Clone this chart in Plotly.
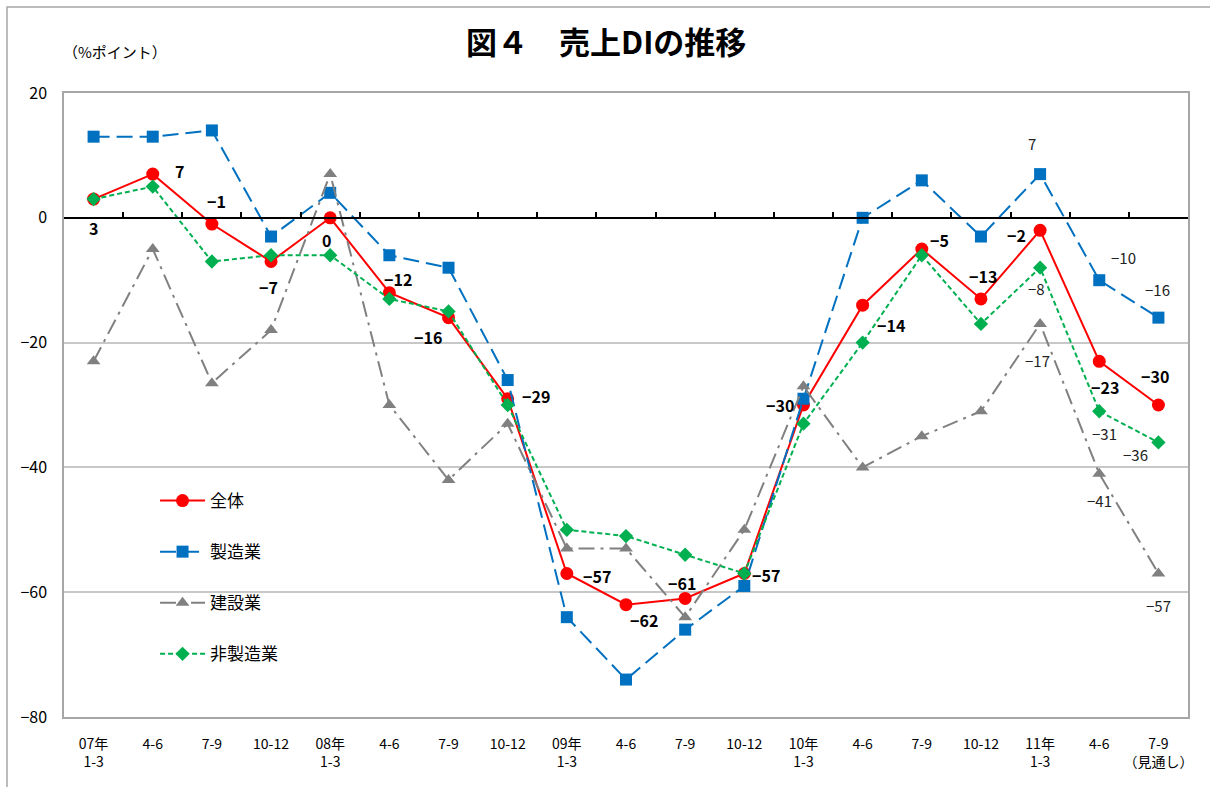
import plotly.graph_objects as go

categories = ["07年<br>1-3", "4-6", "7-9", "10-12", "08年<br>1-3", "4-6", "7-9", "10-12",
              "09年<br>1-3", "4-6", "7-9", "10-12", "10年<br>1-3", "4-6", "7-9", "10-12",
              "11年<br>1-3", "4-6", "7-9<br>（見通し）"]

zentai = [3, 7, -1, -7, 0, -12, -16, -29, -57, -62, -61, -57, -30, -14, -5, -13, -2, -23, -30]
seizo = [13, 13, 14, -3, 4, -6, -8, -26, -64, -74, -66, -59, -29, 0, 6, -3, 7, -10, -16]
kensetsu = [-23, -5, -26.5, -18, 7, -30, -42, -33, -53, -53, -64, -50, -27, -40, -35, -31, -17, -41, -57]
hiseizo = [3, 5, -7, -6, -6, -13, -15, -30, -50, -51, -54, -57, -33, -20, -6, -17, -8, -31, -36]

series_names = ["全体", "製造業", "建設業", "非製造業"]
y_ticks = [20, 0, -20, -40, -60, -80]

FONT = "Noto Sans CJK JP, Noto Sans, sans-serif"
N = len(categories)
xpos = list(range(N))

styles = [
    dict(color="#FF0000", dash="solid", symbol="circle", size=13),
    dict(color="#0070C0", dash="16px,7px", symbol="square", size=12),
    dict(color="#808080", dash="16px,6px,3px,6px", symbol="triangle-up", size=12),
    dict(color="#00B050", dash="5px,3px", symbol="diamond", size=11),
]
data = [zentai, seizo, kensetsu, hiseizo]

fig = go.Figure()
for name, vals, st in zip(series_names, data, styles):
    fig.add_trace(go.Scatter(
        x=xpos, y=vals, name=name, mode="lines+markers",
        line=dict(color=st["color"], width=2, dash=st["dash"]),
        marker=dict(color=st["color"], symbol=st["symbol"], size=st["size"], line=dict(width=0)),
        legendgroup=name, hoverinfo="skip",
    ))

# invisible helper trace for the zero-line axis
fig.add_trace(go.Scatter(x=[0], y=[0], xaxis="x2", mode="markers",
                         marker=dict(opacity=0), showlegend=False, hoverinfo="skip"))

# label placement: (series index, point index, xshift, yshift, bold)
label_specs = [
    (0, 0, 0, -29, True), (0, 1, 27, 3, True), (0, 2, 5, 23, True), (0, 3, -3, -26, True),
    (0, 4, -4, -22, True), (0, 5, 9, 14, True), (0, 6, -21, -19, True), (0, 7, 28, 3, True),
    (0, 8, 30, -3, True), (0, 9, 18, -15, True), (0, 10, -3, 15, True), (0, 11, 22, -2, True),
    (0, 12, -23, 0, True), (0, 13, 28, -20, True), (0, 14, 18, 9, True), (0, 15, 2, 23, True),
    (0, 16, -24, -5, True), (0, 17, 6, -26, True), (0, 18, -3, 29, True),
    (1, 16, -8, 31, False), (1, 17, 24, 23, False), (1, 18, -1, 28, False),
    (2, 16, -3, -37, False), (2, 17, 0, -27, False), (2, 18, 0, -32, False),
    (3, 16, -4, -21, False), (3, 17, 5, -22, False), (3, 18, -23, -12, False),
]

def fmt(v):
    v = int(round(v))
    return ("−" + str(-v)) if v < 0 else str(v)

annotations = []
for si, pi, xs, ys, bold in label_specs:
    v = data[si][pi]
    txt = fmt(v)
    annotations.append(dict(
        x=xpos[pi], y=v, xref="x", yref="y", text=("<b>" + txt + "</b>") if bold else txt,
        showarrow=False, xshift=xs, yshift=ys, xanchor="center", yanchor="middle",
        font=dict(family=FONT, size=16 if bold else 15, color="#000000" if bold else "#222222"),
    ))

annotations.append(dict(x=0.5, y=1.0, xref="paper", yref="paper", yshift=53, xshift=-20, showarrow=False,
                        text="<b>図４　売上DIの推移</b>", xanchor="center", yanchor="middle",
                        font=dict(family=FONT, size=31, color="#000000")))
annotations.append(dict(x=0.0, y=1.0, xref="paper", yref="paper", yshift=42, xshift=-3, showarrow=False,
                        text="（%ポイント）", xanchor="left", yanchor="middle",
                        font=dict(family=FONT, size=15, color="#000000")))

fig.update_layout(
    width=1210, height=787,
    margin=dict(l=64, r=22, t=93, b=70),
    paper_bgcolor="white", plot_bgcolor="white",
    font=dict(family=FONT, color="#000000"),
    showlegend=True,
    legend=dict(x=0.081, y=0.375, xanchor="left", yanchor="top", bgcolor="rgba(0,0,0,0)",
                font=dict(family=FONT, size=17), tracegroupgap=26, traceorder="grouped",
                itemwidth=45),
    xaxis=dict(range=[-0.5, N - 0.5], tickmode="array", tickvals=xpos, ticktext=categories,
               showline=True, linecolor="#A6A6A6", linewidth=1.5, mirror=True,
               showgrid=False, zeroline=False, ticks="outside", ticklen=13, tickcolor="rgba(0,0,0,0)",
               tickfont=dict(family=FONT, size=14), fixedrange=True),
    xaxis2=dict(overlaying="x", anchor="free", position=0.8, range=[-0.5, N - 0.5],
                showline=True, linecolor="#000000", linewidth=1.5, showgrid=False, zeroline=False,
                ticks="inside", ticklen=5, tickwidth=1.5, tickcolor="#000000",
                tickmode="array", tickvals=[i + 0.5 for i in range(N - 1)],
                showticklabels=False, fixedrange=True),
    yaxis=dict(range=[-80, 20], tickmode="array", tickvals=y_ticks,
               showline=True, linecolor="#A6A6A6", linewidth=1.5, mirror=True,
               showgrid=True, gridcolor="#C8C8C8", gridwidth=1.5, zeroline=False,
               ticks="outside", ticklen=12, tickcolor="rgba(0,0,0,0)",
               tickfont=dict(family=FONT, size=16), fixedrange=True),
    annotations=annotations,
    shapes=[
        dict(type="rect", xref="paper", yref="paper",
             x0=(7 - 64) / 1124, x1=1.2, y0=-0.3, y1=(717 - 7) / 624,
             line=dict(color="#A6A6A6", width=1.5), layer="below"),
        dict(type="rect", xref="paper", yref="paper",
             x0=(125 - 64) / 1124, x1=(318 - 64) / 1124, y0=(717 - 680) / 624, y1=(717 - 465) / 624,
             line=dict(width=0), fillcolor="white", layer="between"),
    ],
)

fig.write_html("out.html")
